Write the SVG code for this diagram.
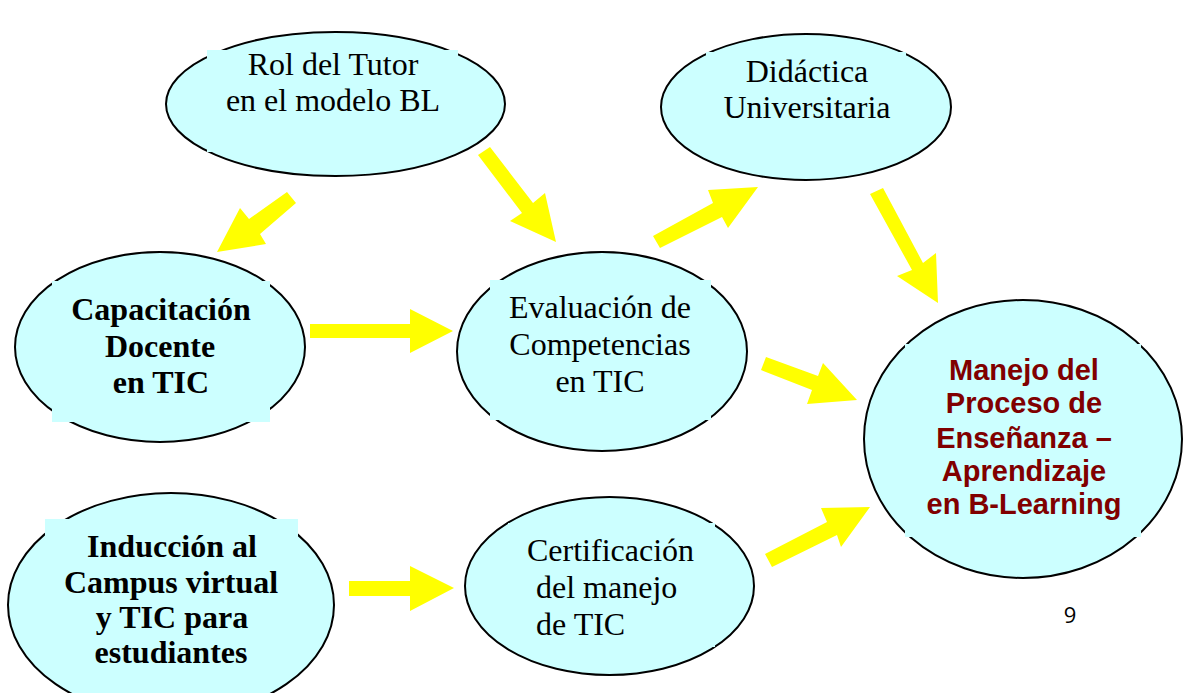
<svg xmlns="http://www.w3.org/2000/svg" width="1184" height="693" viewBox="0 0 1184 693">
<style>
.ell{fill:#ccffff;stroke:#000;stroke-width:2}
.box{fill:#ccffff;stroke:none}
.t{font-family:"Liberation Serif","Times New Roman",serif;font-size:32px;fill:#000;text-anchor:middle}
.s{text-anchor:start}
.b{font-weight:bold}
.m{font-family:"Liberation Sans",Arial,sans-serif;font-size:29px;font-weight:bold;fill:#800000;text-anchor:middle}
.arr{fill:#ffff00;stroke:none}
</style>
<rect width="1184" height="693" fill="#fff"/>
<g id="connectors">
<polygon class="arr" points="287,192 296,203 260,234 266,244 217,252 240,208 249,219"/>
<polygon class="arr" points="478,155 490,147 533,203 545,193 556,242 510,221 522,213"/>
<polygon class="arr" points="653,236 660,248 722,217 728,228 758,187 708,190 713,203"/>
<polygon class="arr" points="870,194 883,188 923,263 936,253 938,303 897,276 912,270"/>
<polygon class="arr" points="310,324 410,324 410,309 453,331 410,353 410,338 310,338"/>
<polygon class="arr" points="766,357 818,376 823,363 857,400 807,404 812,390 761,370"/>
<polygon class="arr" points="349,581 410,581 410,566 454,588 410,611 410,596 349,596"/>
<polygon class="arr" points="765,554 827,522 821,508 870,507 841,547 837,535 772,567"/>
</g>
<g id="rol">
<ellipse class="ell" cx="335.5" cy="104" rx="169.5" ry="72"/>
<rect class="box" x="207" y="50" width="251" height="102"/>
<text class="t" x="333" y="75">Rol del Tutor</text>
<text class="t" x="333" y="111">en el modelo BL</text>
</g>
<g id="didactica">
<ellipse class="ell" cx="806" cy="107" rx="145" ry="73"/>
<rect class="box" x="706" y="52" width="200" height="100"/>
<text class="t" x="807" y="82">Didáctica</text>
<text class="t" x="807" y="118">Universitaria</text>
</g>
<g id="capacitacion">
<ellipse class="ell" cx="160" cy="347" rx="145" ry="95"/>
<rect class="box" x="52" y="281" width="218" height="141"/>
<text class="t b" x="161" y="320">Capacitación</text>
<text class="t b" x="160" y="357">Docente</text>
<text class="t b" x="161" y="393">en TIC</text>
</g>
<g id="evaluacion">
<ellipse class="ell" cx="602" cy="351.5" rx="145" ry="99.5"/>
<rect class="box" x="490" y="280" width="221" height="140"/>
<text class="t" x="600" y="318">Evaluación de</text>
<text class="t" x="600" y="355">Competencias</text>
<text class="t" x="600" y="392">en TIC</text>
</g>
<g id="manejo">
<ellipse class="ell" cx="1023" cy="439" rx="159" ry="139"/>
<rect class="box" x="905" y="344" width="236" height="193"/>
<text class="m" x="1024" y="380">Manejo del</text>
<text class="m" x="1024" y="413">Proceso de</text>
<text class="m" x="1024" y="448">Enseñanza –</text>
<text class="m" x="1024" y="481">Aprendizaje</text>
<text class="m" x="1024" y="514">en B-Learning</text>
</g>
<g id="induccion">
<ellipse class="ell" cx="171" cy="605" rx="163" ry="112"/>
<rect class="box" x="45" y="519" width="253" height="149"/>
<text class="t b" x="172" y="557">Inducción al</text>
<text class="t b" x="171" y="593">Campus virtual</text>
<text class="t b" x="172" y="628">y TIC para</text>
<text class="t b" x="171" y="663">estudiantes</text>
</g>
<g id="certificacion">
<ellipse class="ell" cx="609.5" cy="586" rx="144.5" ry="89"/>
<rect class="box" x="508" y="523" width="207" height="124"/>
<text class="t s" x="527" y="561">Certificación</text>
<text class="t s" x="536" y="598">del manejo</text>
<text class="t s" x="536" y="635">de TIC</text>
</g>
<text x="1070" y="623" font-family="'Open Sans','Liberation Sans',sans-serif" font-size="22" text-anchor="middle" fill="#000">9</text>
</svg>
